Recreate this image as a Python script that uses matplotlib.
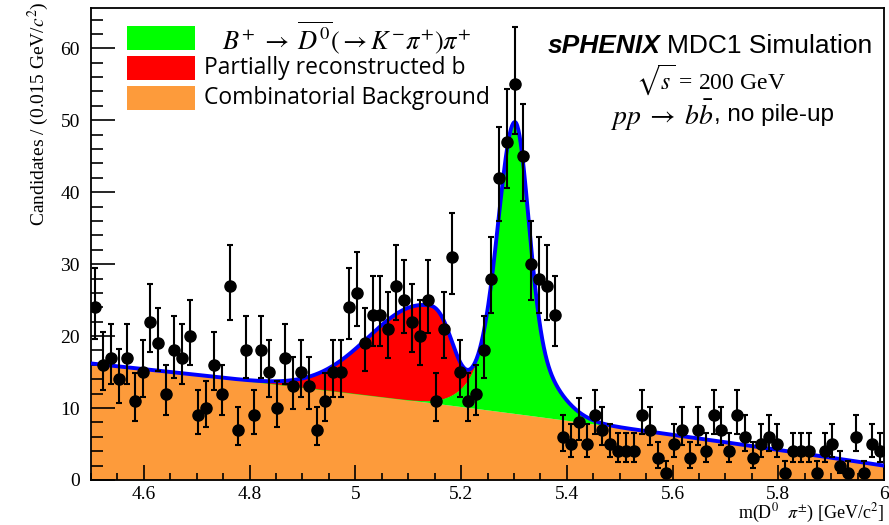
import numpy as np
import matplotlib.pyplot as plt
from matplotlib.patches import Rectangle
from matplotlib.ticker import MultipleLocator, FormatStrFormatter

# binned candidates, 100 bins of 0.015 GeV from 4.5 to 6.0
m_lo, m_hi = 4.5, 6.0
bin_width = 0.015
counts = [24, 16, 17, 14, 17, 11, 15, 22, 19, 12,
          18, 17, 20, 9, 10, 16, 12, 27, 7, 18,
          9, 18, 15, 10, 17, 13, 15, 13, 7, 11,
          15, 15, 24, 26, 19, 23, 23, 21, 27, 25,
          22, 20, 25, 11, 21, 31, 15, 11, 12, 18,
          28, 42, 47, 55, 45, 30, 28, 27, 23, 6,
          5, 8, 5, 9, 7, 5, 4, 4, 4, 9,
          7, 3, 1, 5, 7, 3, 7, 4, 9, 7,
          4, 9, 6, 3, 5, 6, 5, 1, 4, 4,
          4, 1, 4, 5, 2, 1, 6, 1, 5, 4]

# fit model parameters
bkg_coef = [16.2, -7.76, -1.14]      # quadratic in (m - 4.5)
sig_mean = 5.302
sig_core = [30.0, 0.030, 0.025]      # amplitude, sigma below, sigma above
sig_wide = [10.5, 0.060, 0.060]
prb_amp, prb_peak = 13.3, 5.13
prb_sigma_lo, prb_sigma_hi = 0.105, 0.050

orange = '#FD9B3B'
green = '#00FF00'
red = '#FF0000'
blue = '#0000FF'

plt.rcParams['font.family'] = 'Liberation Serif'
plt.rcParams['mathtext.fontset'] = 'stix'


def bifur_gauss(x, amp, mu, s_lo, s_hi):
    s = np.where(x < mu, s_lo, s_hi)
    return amp * np.exp(-0.5 * ((x - mu) / s) ** 2)


m = np.linspace(m_lo, m_hi, 1500)
t = m - m_lo
bkg = bkg_coef[0] + bkg_coef[1] * t + bkg_coef[2] * t ** 2
sig = bifur_gauss(m, sig_core[0], sig_mean, sig_core[1], sig_core[2]) + \
    bifur_gauss(m, sig_wide[0], sig_mean, sig_wide[1], sig_wide[2])
# partially reconstructed: gaussian below the peak, sharper fall-off above
d = m - prb_peak
prb = np.where(d < 0, prb_amp * np.exp(-0.5 * (d / prb_sigma_lo) ** 2),
               prb_amp * np.exp(-0.5 * np.abs(d / prb_sigma_hi) ** 3))
total = bkg + sig + prb

n = np.array(counts, dtype=float)
centers = m_lo + bin_width * (np.arange(len(n)) + 0.5)
err_lo = n - (n + 0.5 - np.sqrt(n + 0.25))
err_hi = (n + 0.5 + np.sqrt(n + 0.25)) - n

fig = plt.figure(figsize=(8.89, 5.25), dpi=100)
ax = fig.add_axes([91 / 889, 1 - 480 / 525, (884 - 91) / 889, (480 - 8) / 525])

ax.fill_between(m, 0, bkg, color=orange, lw=0, zorder=1)
ax.fill_between(m, bkg, bkg + sig, color=green, lw=0, zorder=2)
ax.plot(m, bkg + sig, color=green, lw=1.2, zorder=2)
ax.fill_between(m, bkg + sig, total, color=red, lw=0, zorder=3)
ax.plot(m, total, color=blue, lw=2.8, zorder=4)

ax.errorbar(centers, n, yerr=[err_lo, err_hi], fmt='o', color='black', ms=8,
            elinewidth=1.5, capsize=2.5, capthick=1.5, zorder=5)

ax.set_xlim(m_lo, m_hi)
ax.set_ylim(0, 65.6)
ax.xaxis.set_major_locator(MultipleLocator(0.2))
ax.xaxis.set_minor_locator(MultipleLocator(0.05))
ax.yaxis.set_major_locator(MultipleLocator(10))
ax.yaxis.set_minor_locator(MultipleLocator(2))
ax.xaxis.set_major_formatter(FormatStrFormatter('%g'))
ax.tick_params(axis='x', which='major', direction='in', length=10.5, width=1.2,
               labelsize=14, pad=4)
ax.tick_params(axis='x', which='minor', direction='in', length=5.2, width=1.2)
ax.tick_params(axis='y', which='major', direction='in', length=17, width=1.2,
               labelsize=14, pad=8)
ax.tick_params(axis='y', which='minor', direction='in', length=8.5, width=1.2)
for sp in ax.spines.values():
    sp.set_linewidth(1.3)

fig.text(884 / 889, 1 - 513 / 525, r'm(D$^{0}$  $\pi^{\pm}$) [GeV/c$^{2}$]',
         ha='right', va='center', fontsize=13)
fig.text(38 / 889, 1 - 1 / 525, r'Candidates / (0.015 GeV/$c^{2}$)',
         rotation=90, ha='center', va='top', fontsize=14)

# legend boxes
legend_colors = [green, red, orange]
legend_rows = [26, 56, 86]
for c, y0 in zip(legend_colors, legend_rows):
    fig.add_artist(Rectangle((127 / 889, 1 - (y0 + 24) / 525), 68 / 889, 24 / 525,
                             transform=fig.transFigure, color=c, lw=0))
fig.text(222 / 889, 1 - 38 / 525,
         r'$B^{+} \;\rightarrow\; \overline{D^{0}}(\rightarrow K^{-}\pi^{+})\pi^{+}$',
         ha='left', va='center', fontsize=19)
fig.text(204 / 889, 1 - 68 / 525, 'Partially reconstructed b',
         family='Open Sans', ha='left', va='center', fontsize=16.5)
fig.text(204 / 889, 1 - 98 / 525, 'Combinatorial Background',
         family='Open Sans', ha='left', va='center', fontsize=16.5)

# experiment label
t1 = fig.text(548 / 889, 1 - 46 / 525, 'sPHENIX', family='Liberation Sans',
              weight='bold', style='italic', ha='left', va='center', fontsize=19)
fig.canvas.draw()
bb = t1.get_window_extent(renderer=fig.canvas.get_renderer())
fig.text((bb.x1 + 6) / 889, 1 - 46 / 525, 'MDC1 Simulation', family='Liberation Sans',
         ha='left', va='center', fontsize=19)
fig.text(711 / 889, 1 - 80 / 525, r'$\sqrt{s}$ = 200 GeV', ha='center',
         va='center', fontsize=17)
fig.text(714 / 889, 1 - 115 / 525, r'$pp\;\rightarrow\;b\bar{b}$', ha='right',
         va='center', fontsize=20)
fig.text(714 / 889, 1 - 115 / 525, ', no pile-up', family='Liberation Sans',
         ha='left', va='center', fontsize=17.5)

fig.savefig('out.png', dpi=100)
